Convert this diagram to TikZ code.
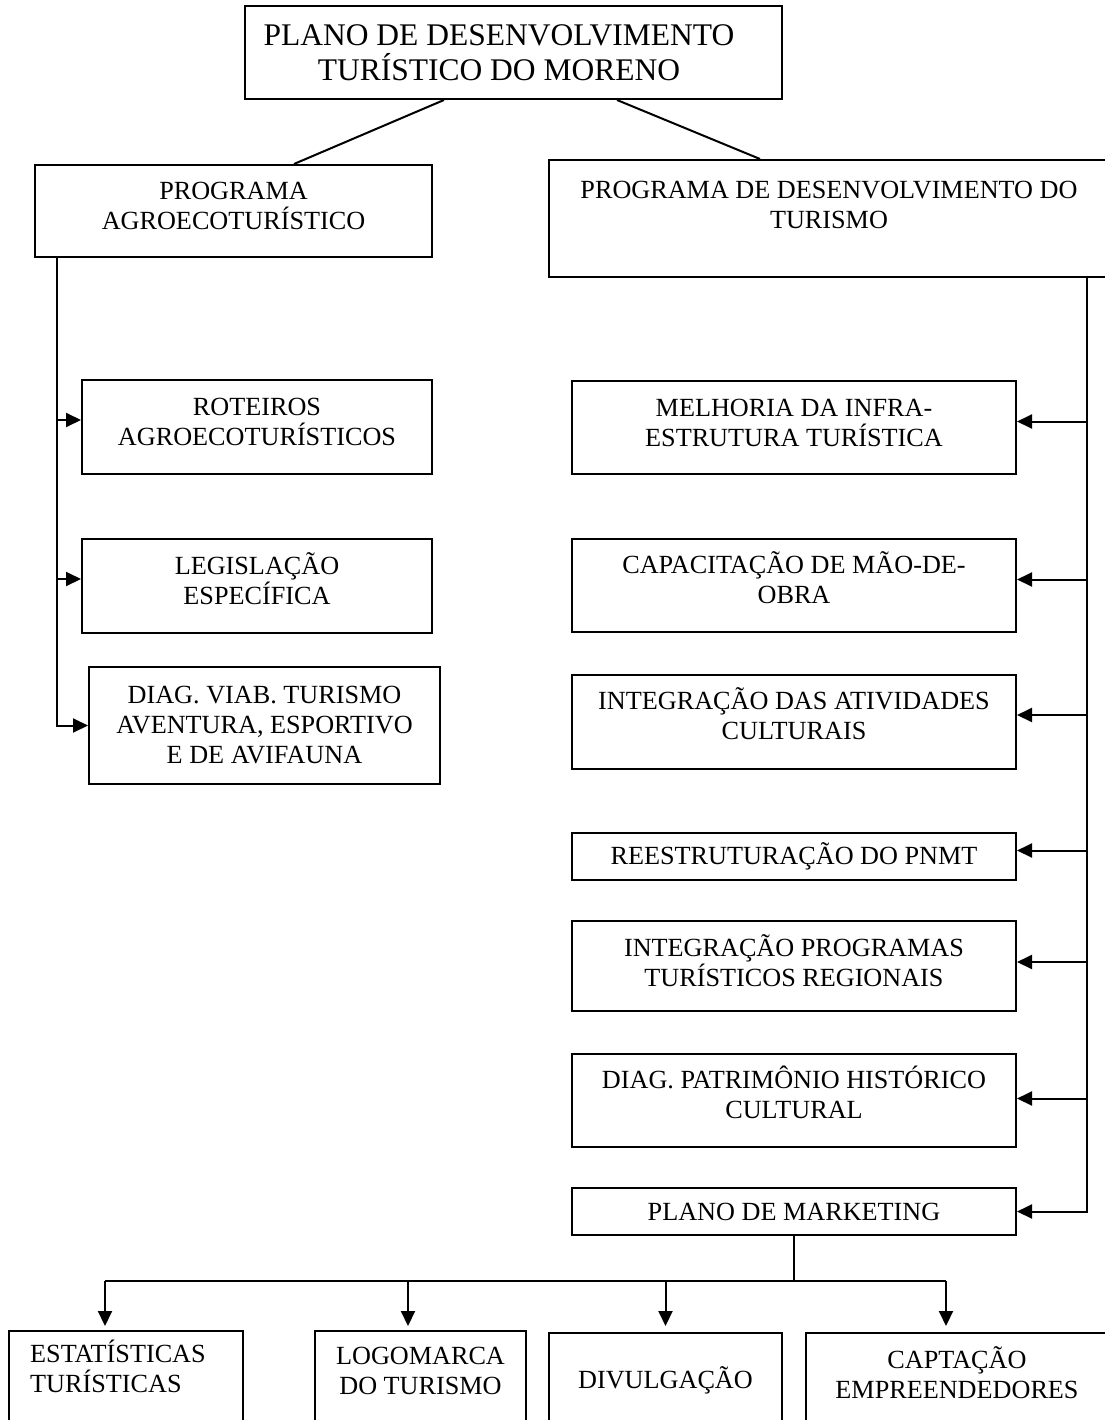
\documentclass[tikz,border=0pt]{standalone}
\usepackage{fontspec}
\setmainfont{Liberation Serif}
\usetikzlibrary{arrows.meta, positioning, calc}

\begin{document}
\begin{tikzpicture}[
    x=1pt, y=-1pt,                    % <── one unit = one pixel, y downwards
    caixa/.style={draw, line width=2pt, align=center, inner sep=0pt,
        font=\fontsize{26.2}{30}\selectfont},
    linha/.style={line width=2pt},
    seta/.style={line width=2pt, -{Triangle[length=15pt, width=14pt]}}
    ]
    \useasboundingbox (0,0) rectangle (1104,1420);

    % Plano (top)
    \node[caixa, minimum width=537, minimum height=93] (plano) at (513.5,52.5) {};
    \node[align=center, inner sep=0pt, font=\fontsize{31.5}{35}\selectfont] (plano texto) at (499,52.5)
        {PLANO DE DESENVOLVIMENTO\\TURÍSTICO DO MORENO};

    % Programas
    \node[caixa, minimum width=397, minimum height=92, text depth=10pt] (agro) at (233.5,211)
        {PROGRAMA\\AGROECOTURÍSTICO};
    \node[caixa, minimum width=560, minimum height=117, text depth=27pt] (desenv) at (829,218.5)
        {PROGRAMA DE DESENVOLVIMENTO DO\\TURISMO};

    % Lado esquerdo
    \node[caixa, minimum width=350, minimum height=94, text depth=10pt] (roteiros) at (257,427)
        {ROTEIROS\\AGROECOTURÍSTICOS};
    \node[caixa, minimum width=350, minimum height=94, text depth=15pt] (legislacao) at (257,586)
        {LEGISLAÇÃO\\ESPECÍFICA};
    \node[caixa, minimum width=351, minimum height=117] (viab) at (264.5,725.5)
        {DIAG. VIAB. TURISMO\\AVENTURA, ESPORTIVO\\E DE AVIFAUNA};

    % Lado direito
    \node[caixa, minimum width=444, minimum height=93, text depth=9pt] (infra) at (794,427.5)
        {MELHORIA DA INFRA-\\ESTRUTURA TURÍSTICA};
    \node[caixa, minimum width=444, minimum height=93, text depth=16pt] (capacitacao) at (794,585.5)
        {CAPACITAÇÃO DE MÃO-DE-\\OBRA};
    \node[caixa, minimum width=444, minimum height=94, text depth=17pt] (cultura) at (794,722)
        {INTEGRAÇÃO DAS ATIVIDADES\\CULTURAIS};
    \node[caixa, minimum width=444, minimum height=47] (pnmt) at (794,856.5) {REESTRUTURAÇÃO DO PNMT};
    \node[caixa, minimum width=444, minimum height=90, text depth=11pt] (regionais) at (794,966)
        {INTEGRAÇÃO PROGRAMAS\\TURÍSTICOS REGIONAIS};
    \node[caixa, minimum width=444, minimum height=93, text depth=17pt] (patrimonio) at (794,1100.5)
        {DIAG. PATRIMÔNIO HISTÓRICO\\CULTURAL};
    \node[caixa, minimum width=444, minimum height=47] (marketing) at (794,1211.5) {PLANO DE MARKETING};

    % Marketing (bottom row)
    \node[caixa, minimum width=234, minimum height=95, anchor=north] (estatisticas) at (126,1330) {};
    \node[align=left, inner sep=0pt, anchor=north west, font=\fontsize{26.2}{30}\selectfont]
        (estatisticas texto) at (30,1340) {ESTATÍSTICAS\\TURÍSTICAS};
    \node[caixa, minimum width=211, minimum height=95, anchor=north, text depth=15pt] (logomarca) at (420.5,1330)
        {LOGOMARCA\\DO TURISMO};
    \node[caixa, minimum width=233, minimum height=95, anchor=north] (divulgacao) at (665.5,1332) {DIVULGAÇÃO};
    \node[caixa, minimum width=302, minimum height=95, anchor=north, text depth=15pt] (captacao) at (957,1332)
        {CAPTAÇÃO\\EMPREENDEDORES};

    % Ligações do plano
    \draw[linha] ($(plano.south west)+(200,0)$) -- ($(agro.north west)+(260,0)$);
    \draw[linha] ($(plano.south west)+(373,0)$) -- ($(desenv.north west)+(212,0)$);

    % Tronco esquerdo
    \coordinate (tronco agro) at ($(agro.south west)+(23,0)$);
    \draw[seta] (tronco agro) |- (viab.west);
    \draw[seta, transform canvas={yshift=7pt}] (tronco agro |- roteiros.west) -- (roteiros.west);
    \draw[seta, transform canvas={yshift=7pt}] (tronco agro |- legislacao.west) -- (legislacao.west);

    % Tronco direito
    \coordinate (tronco desenv) at ($(desenv.south east)+(-23,0)$);
    \draw[seta] (tronco desenv) |- (marketing.east);
    \foreach \alvo/\dy in {infra/6, capacitacao/6, cultura/7, pnmt/6, regionais/4, patrimonio/2}
        \draw[seta, transform canvas={yshift=\dy pt}] (tronco desenv |- \alvo.east) -- (\alvo.east);

    % Ramos do marketing
    \coordinate (ramo) at ($(marketing.south)+(0,45)$);
    \coordinate (pe estatisticas) at ($(estatisticas.north)+(-21,-4)$);
    \coordinate (pe logomarca) at ($(logomarca.north)+(-12.5,-4)$);
    \coordinate (pe divulgacao) at ($(divulgacao.north)+(0,-6)$);
    \coordinate (pe captacao) at ($(captacao.north)+(-11,-6)$);
    \draw[linha] (marketing.south) -- (ramo);
    \draw[linha] (pe estatisticas |- ramo) -- (pe captacao |- ramo);
    \foreach \pe in {pe estatisticas, pe logomarca, pe divulgacao, pe captacao}
        \draw[seta] (\pe |- ramo) -- (\pe);
\end{tikzpicture}
\end{document}
